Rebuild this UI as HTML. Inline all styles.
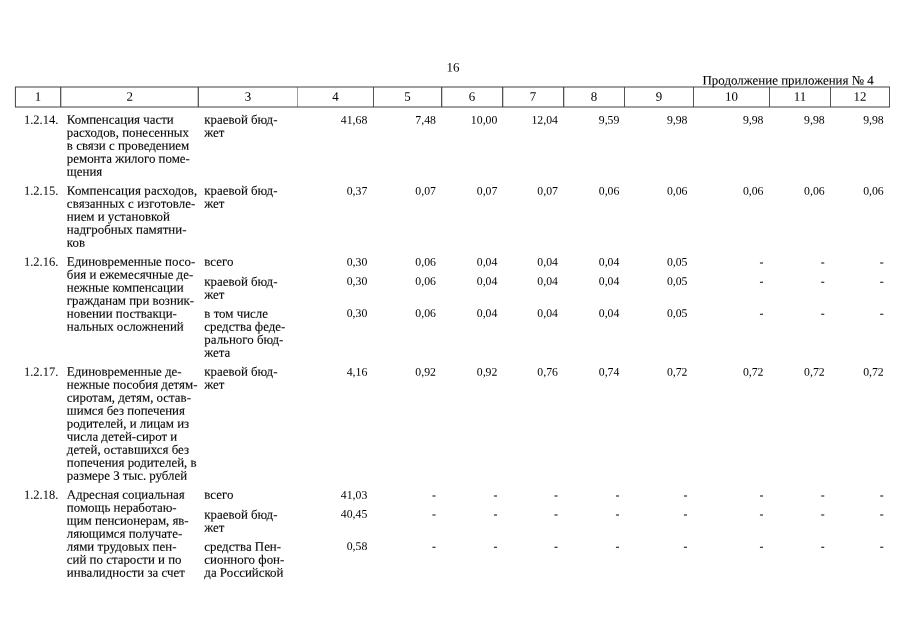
<!DOCTYPE html>
<html lang="ru"><head><meta charset="utf-8"><title>16</title>
<style>
html,body{margin:0;padding:0;background:#fff;}
body{width:905px;height:640px;position:relative;overflow:hidden;font-family:"Liberation Serif","DejaVu Serif",serif;font-size:12.9px;line-height:14px;color:#000;}
#pg{position:absolute;left:0;top:0;width:905px;height:640px;will-change:transform;text-rendering:geometricPrecision;}
.t{position:absolute;height:14px;white-space:pre;transform-origin:0 0;}
.r{width:200px;text-align:right;transform-origin:100% 0;}
.c{width:200px;text-align:center;transform-origin:50% 0;}
.b{-webkit-text-stroke:0.1px #000;}
.n{font-size:11.78px;}
.k{font-size:12.96px;}
.m{font-size:12.5px;}
.grid{position:absolute;left:0;top:0;}
</style></head><body>
<svg class="grid" width="905" height="640" viewBox="0 0 905 640">
<g stroke="#404040" fill="none">
<line x1="15" y1="87.0" x2="890" y2="87.0" stroke-width="1"/>
<line x1="15" y1="107.0" x2="890" y2="107.0" stroke-width="1"/>
<line x1="15.4" y1="87.0" x2="15.4" y2="107.0" stroke-width="1.0"/>
<line x1="60.72" y1="87.0" x2="60.72" y2="107.0" stroke-width="1.15"/>
<line x1="198.28" y1="87.0" x2="198.28" y2="107.0" stroke-width="1.15"/>
<line x1="297.5" y1="87.0" x2="297.5" y2="107.0" stroke-width="0.5"/>
<line x1="373.5" y1="87.0" x2="373.5" y2="107.0" stroke-width="0.9"/>
<line x1="441.68" y1="87.0" x2="441.68" y2="107.0" stroke-width="1.15"/>
<line x1="502.68" y1="87.0" x2="502.68" y2="107.0" stroke-width="1.15"/>
<line x1="563.68" y1="87.0" x2="563.68" y2="107.0" stroke-width="1.15"/>
<line x1="624.5" y1="87.0" x2="624.5" y2="107.0" stroke-width="0.9"/>
<line x1="693.5" y1="87.0" x2="693.5" y2="107.0" stroke-width="0.9"/>
<line x1="769.5" y1="87.0" x2="769.5" y2="107.0" stroke-width="0.9"/>
<line x1="830.5" y1="87.0" x2="830.5" y2="107.0" stroke-width="0.9"/>
<line x1="889.5" y1="87.0" x2="889.5" y2="107.0" stroke-width="0.9"/>
</g></svg>
<div id="pg">
<div class="t c" style="left:353px;top:60px;transform:matrix(1,0.0005,0,1,0.00,0.60)">16</div>
<div class="t k b" style="left:702px;top:73px;transform:matrix(1,0.0005,0,1,0.50,0.50)">Продолжение приложения № 4</div>
<div class="t c" style="left:-62px;top:89px;transform:matrix(1,0.0005,0,1,0.07,0.85)">1</div>
<div class="t c" style="left:29px;top:89px;transform:matrix(1,0.0005,0,1,0.65,0.85)">2</div>
<div class="t c" style="left:147px;top:89px;transform:matrix(1,0.0005,0,1,0.93,0.85)">3</div>
<div class="t c" style="left:235px;top:89px;transform:matrix(1,0.0005,0,1,0.50,0.85)">4</div>
<div class="t c" style="left:307px;top:89px;transform:matrix(1,0.0005,0,1,0.50,0.85)">5</div>
<div class="t c" style="left:372px;top:89px;transform:matrix(1,0.0005,0,1,0.10,0.85)">6</div>
<div class="t c" style="left:433px;top:89px;transform:matrix(1,0.0005,0,1,0.10,0.85)">7</div>
<div class="t c" style="left:494px;top:89px;transform:matrix(1,0.0005,0,1,0.00,0.85)">8</div>
<div class="t c" style="left:558px;top:89px;transform:matrix(1,0.0005,0,1,0.90,0.85)">9</div>
<div class="t c" style="left:631px;top:89px;transform:matrix(1,0.0005,0,1,0.40,0.85)">10</div>
<div class="t c" style="left:699px;top:89px;transform:matrix(1,0.0005,0,1,0.90,0.85)">11</div>
<div class="t c" style="left:759px;top:89px;transform:matrix(1,0.0005,0,1,0.90,0.85)">12</div>
<div class="t m" style="left:23px;top:112px;transform:matrix(1,0.0005,0,1,0.90,0.75)">1.2.14.</div>
<div class="t b" style="left:66px;top:112px;transform:matrix(1,0.0005,0,1,0.85,0.75)">Компенсация части</div>
<div class="t b" style="left:66px;top:125px;transform:matrix(1,0.0005,0,1,0.85,0.75)">расходов, понесенных</div>
<div class="t b" style="left:66px;top:138px;transform:matrix(1,0.0005,0,1,0.85,0.75)">в связи с проведением</div>
<div class="t b" style="left:66px;top:151px;transform:matrix(1,0.0005,0,1,0.85,0.75)">ремонта жилого поме-</div>
<div class="t b" style="left:66px;top:164px;transform:matrix(1,0.0005,0,1,0.85,0.75)">щения</div>
<div class="t b" style="left:204px;top:112px;transform:matrix(1,0.0005,0,1,0.35,0.75)">краевой бюд-</div>
<div class="t b" style="left:204px;top:125px;transform:matrix(1,0.0005,0,1,0.35,0.75)">жет</div>
<div class="t r n" style="left:167px;top:113px;transform:matrix(1,0.0005,0,1,0.30,0.75)">41,68</div>
<div class="t r n" style="left:235px;top:113px;transform:matrix(1,0.0005,0,1,0.95,0.75)">7,48</div>
<div class="t r n" style="left:297px;top:113px;transform:matrix(1,0.0005,0,1,0.35,0.75)">10,00</div>
<div class="t r n" style="left:357px;top:113px;transform:matrix(1,0.0005,0,1,0.95,0.75)">12,04</div>
<div class="t r n" style="left:419px;top:113px;transform:matrix(1,0.0005,0,1,0.35,0.75)">9,59</div>
<div class="t r n" style="left:487px;top:113px;transform:matrix(1,0.0005,0,1,0.50,0.75)">9,98</div>
<div class="t r n" style="left:563px;top:113px;transform:matrix(1,0.0005,0,1,0.50,0.75)">9,98</div>
<div class="t r n" style="left:624px;top:113px;transform:matrix(1,0.0005,0,1,0.70,0.75)">9,98</div>
<div class="t r n" style="left:683px;top:113px;transform:matrix(1,0.0005,0,1,0.75,0.75)">9,98</div>
<div class="t m" style="left:23px;top:183px;transform:matrix(1,0.0005,0,1,0.90,0.75)">1.2.15.</div>
<div class="t b" style="left:66px;top:183px;letter-spacing:0.095px;transform:matrix(1,0.0005,0,1,0.85,0.75)">Компенсация расходов,</div>
<div class="t b" style="left:66px;top:196px;letter-spacing:0.071px;transform:matrix(1,0.0005,0,1,0.85,0.75)">связанных с изготовле-</div>
<div class="t b" style="left:66px;top:209px;transform:matrix(1,0.0005,0,1,0.85,0.75)">нием и установкой</div>
<div class="t b" style="left:66px;top:222px;transform:matrix(1,0.0005,0,1,0.85,0.75)">надгробных памятни-</div>
<div class="t b" style="left:66px;top:235px;transform:matrix(1,0.0005,0,1,0.85,0.75)">ков</div>
<div class="t b" style="left:204px;top:183px;transform:matrix(1,0.0005,0,1,0.35,0.75)">краевой бюд-</div>
<div class="t b" style="left:204px;top:196px;transform:matrix(1,0.0005,0,1,0.35,0.75)">жет</div>
<div class="t r n" style="left:167px;top:184px;transform:matrix(1,0.0005,0,1,0.30,0.75)">0,37</div>
<div class="t r n" style="left:235px;top:184px;transform:matrix(1,0.0005,0,1,0.95,0.75)">0,07</div>
<div class="t r n" style="left:297px;top:184px;transform:matrix(1,0.0005,0,1,0.35,0.75)">0,07</div>
<div class="t r n" style="left:357px;top:184px;transform:matrix(1,0.0005,0,1,0.95,0.75)">0,07</div>
<div class="t r n" style="left:419px;top:184px;transform:matrix(1,0.0005,0,1,0.35,0.75)">0,06</div>
<div class="t r n" style="left:487px;top:184px;transform:matrix(1,0.0005,0,1,0.50,0.75)">0,06</div>
<div class="t r n" style="left:563px;top:184px;transform:matrix(1,0.0005,0,1,0.50,0.75)">0,06</div>
<div class="t r n" style="left:624px;top:184px;transform:matrix(1,0.0005,0,1,0.70,0.75)">0,06</div>
<div class="t r n" style="left:683px;top:184px;transform:matrix(1,0.0005,0,1,0.75,0.75)">0,06</div>
<div class="t m" style="left:23px;top:254px;transform:matrix(1,0.0005,0,1,0.90,0.75)">1.2.16.</div>
<div class="t b" style="left:66px;top:254px;transform:matrix(1,0.0005,0,1,0.85,0.75)">Единовременные посо-</div>
<div class="t b" style="left:66px;top:267px;transform:matrix(1,0.0005,0,1,0.85,0.75)">бия и ежемесячные де-</div>
<div class="t b" style="left:66px;top:280px;letter-spacing:-0.065px;transform:matrix(1,0.0005,0,1,0.85,0.75)">нежные компенсации</div>
<div class="t b" style="left:66px;top:293px;letter-spacing:-0.035px;transform:matrix(1,0.0005,0,1,0.85,0.75)">гражданам при возник-</div>
<div class="t b" style="left:66px;top:306px;transform:matrix(1,0.0005,0,1,0.85,0.75)">новении поствакци-</div>
<div class="t b" style="left:66px;top:319px;letter-spacing:-0.041px;transform:matrix(1,0.0005,0,1,0.85,0.75)">нальных осложнений</div>
<div class="t b" style="left:204px;top:254px;transform:matrix(1,0.0005,0,1,0.35,0.75)">всего</div>
<div class="t r n" style="left:167px;top:255px;transform:matrix(1,0.0005,0,1,0.30,0.75)">0,30</div>
<div class="t r n" style="left:235px;top:255px;transform:matrix(1,0.0005,0,1,0.95,0.75)">0,06</div>
<div class="t r n" style="left:297px;top:255px;transform:matrix(1,0.0005,0,1,0.35,0.75)">0,04</div>
<div class="t r n" style="left:357px;top:255px;transform:matrix(1,0.0005,0,1,0.95,0.75)">0,04</div>
<div class="t r n" style="left:419px;top:255px;transform:matrix(1,0.0005,0,1,0.35,0.75)">0,04</div>
<div class="t r n" style="left:487px;top:255px;transform:matrix(1,0.0005,0,1,0.50,0.75)">0,05</div>
<div class="t r n" style="left:563px;top:255px;transform:matrix(1,0.0005,0,1,0.50,0.75)">-</div>
<div class="t r n" style="left:624px;top:255px;transform:matrix(1,0.0005,0,1,0.70,0.75)">-</div>
<div class="t r n" style="left:683px;top:255px;transform:matrix(1,0.0005,0,1,0.75,0.75)">-</div>
<div class="t b" style="left:204px;top:274px;transform:matrix(1,0.0005,0,1,0.35,0.75)">краевой бюд-</div>
<div class="t b" style="left:204px;top:287px;transform:matrix(1,0.0005,0,1,0.35,0.75)">жет</div>
<div class="t r n" style="left:167px;top:275px;transform:matrix(1,0.0005,0,1,0.30,0.00)">0,30</div>
<div class="t r n" style="left:235px;top:275px;transform:matrix(1,0.0005,0,1,0.95,0.00)">0,06</div>
<div class="t r n" style="left:297px;top:275px;transform:matrix(1,0.0005,0,1,0.35,0.00)">0,04</div>
<div class="t r n" style="left:357px;top:275px;transform:matrix(1,0.0005,0,1,0.95,0.00)">0,04</div>
<div class="t r n" style="left:419px;top:275px;transform:matrix(1,0.0005,0,1,0.35,0.00)">0,04</div>
<div class="t r n" style="left:487px;top:275px;transform:matrix(1,0.0005,0,1,0.50,0.00)">0,05</div>
<div class="t r n" style="left:563px;top:275px;transform:matrix(1,0.0005,0,1,0.50,0.00)">-</div>
<div class="t r n" style="left:624px;top:275px;transform:matrix(1,0.0005,0,1,0.70,0.00)">-</div>
<div class="t r n" style="left:683px;top:275px;transform:matrix(1,0.0005,0,1,0.75,0.00)">-</div>
<div class="t b" style="left:204px;top:306px;transform:matrix(1,0.0005,0,1,0.35,0.75)">в том числе</div>
<div class="t b" style="left:204px;top:319px;transform:matrix(1,0.0005,0,1,0.35,0.75)">средства феде-</div>
<div class="t b" style="left:204px;top:332px;transform:matrix(1,0.0005,0,1,0.35,0.75)">рального бюд-</div>
<div class="t b" style="left:204px;top:345px;transform:matrix(1,0.0005,0,1,0.35,0.75)">жета</div>
<div class="t r n" style="left:167px;top:307px;transform:matrix(1,0.0005,0,1,0.30,0.00)">0,30</div>
<div class="t r n" style="left:235px;top:307px;transform:matrix(1,0.0005,0,1,0.95,0.00)">0,06</div>
<div class="t r n" style="left:297px;top:307px;transform:matrix(1,0.0005,0,1,0.35,0.00)">0,04</div>
<div class="t r n" style="left:357px;top:307px;transform:matrix(1,0.0005,0,1,0.95,0.00)">0,04</div>
<div class="t r n" style="left:419px;top:307px;transform:matrix(1,0.0005,0,1,0.35,0.00)">0,04</div>
<div class="t r n" style="left:487px;top:307px;transform:matrix(1,0.0005,0,1,0.50,0.00)">0,05</div>
<div class="t r n" style="left:563px;top:307px;transform:matrix(1,0.0005,0,1,0.50,0.00)">-</div>
<div class="t r n" style="left:624px;top:307px;transform:matrix(1,0.0005,0,1,0.70,0.00)">-</div>
<div class="t r n" style="left:683px;top:307px;transform:matrix(1,0.0005,0,1,0.75,0.00)">-</div>
<div class="t m" style="left:23px;top:364px;transform:matrix(1,0.0005,0,1,0.90,0.75)">1.2.17.</div>
<div class="t b" style="left:66px;top:364px;transform:matrix(1,0.0005,0,1,0.85,0.75)">Единовременные де-</div>
<div class="t b" style="left:66px;top:377px;transform:matrix(1,0.0005,0,1,0.85,0.75)">нежные пособия детям-</div>
<div class="t b" style="left:66px;top:390px;transform:matrix(1,0.0005,0,1,0.85,0.75)">сиротам, детям, остав-</div>
<div class="t b" style="left:66px;top:403px;transform:matrix(1,0.0005,0,1,0.85,0.75)">шимся без попечения</div>
<div class="t b" style="left:66px;top:416px;transform:matrix(1,0.0005,0,1,0.85,0.75)">родителей, и лицам из</div>
<div class="t b" style="left:66px;top:429px;transform:matrix(1,0.0005,0,1,0.85,0.75)">числа детей-сирот и</div>
<div class="t b" style="left:66px;top:442px;transform:matrix(1,0.0005,0,1,0.85,0.75)">детей, оставшихся без</div>
<div class="t b" style="left:66px;top:455px;transform:matrix(1,0.0005,0,1,0.85,0.75)">попечения родителей, в</div>
<div class="t b" style="left:66px;top:468px;transform:matrix(1,0.0005,0,1,0.85,0.75)">размере 3 тыс. рублей</div>
<div class="t b" style="left:204px;top:364px;transform:matrix(1,0.0005,0,1,0.35,0.75)">краевой бюд-</div>
<div class="t b" style="left:204px;top:377px;transform:matrix(1,0.0005,0,1,0.35,0.75)">жет</div>
<div class="t r n" style="left:167px;top:365px;transform:matrix(1,0.0005,0,1,0.30,0.75)">4,16</div>
<div class="t r n" style="left:235px;top:365px;transform:matrix(1,0.0005,0,1,0.95,0.75)">0,92</div>
<div class="t r n" style="left:297px;top:365px;transform:matrix(1,0.0005,0,1,0.35,0.75)">0,92</div>
<div class="t r n" style="left:357px;top:365px;transform:matrix(1,0.0005,0,1,0.95,0.75)">0,76</div>
<div class="t r n" style="left:419px;top:365px;transform:matrix(1,0.0005,0,1,0.35,0.75)">0,74</div>
<div class="t r n" style="left:487px;top:365px;transform:matrix(1,0.0005,0,1,0.50,0.75)">0,72</div>
<div class="t r n" style="left:563px;top:365px;transform:matrix(1,0.0005,0,1,0.50,0.75)">0,72</div>
<div class="t r n" style="left:624px;top:365px;transform:matrix(1,0.0005,0,1,0.70,0.75)">0,72</div>
<div class="t r n" style="left:683px;top:365px;transform:matrix(1,0.0005,0,1,0.75,0.75)">0,72</div>
<div class="t m" style="left:23px;top:487px;transform:matrix(1,0.0005,0,1,0.90,0.75)">1.2.18.</div>
<div class="t b" style="left:66px;top:487px;letter-spacing:-0.039px;transform:matrix(1,0.0005,0,1,0.85,0.75)">Адресная социальная</div>
<div class="t b" style="left:66px;top:500px;transform:matrix(1,0.0005,0,1,0.85,0.75)">помощь неработаю-</div>
<div class="t b" style="left:66px;top:513px;letter-spacing:-0.037px;transform:matrix(1,0.0005,0,1,0.85,0.75)">щим пенсионерам, яв-</div>
<div class="t b" style="left:66px;top:526px;transform:matrix(1,0.0005,0,1,0.85,0.75)">ляющимся получате-</div>
<div class="t b" style="left:66px;top:539px;transform:matrix(1,0.0005,0,1,0.85,0.75)">лями трудовых пен-</div>
<div class="t b" style="left:66px;top:552px;transform:matrix(1,0.0005,0,1,0.85,0.75)">сий по старости и по</div>
<div class="t b" style="left:66px;top:565px;transform:matrix(1,0.0005,0,1,0.85,0.75)">инвалидности за счет</div>
<div class="t b" style="left:204px;top:487px;transform:matrix(1,0.0005,0,1,0.35,0.75)">всего</div>
<div class="t r n" style="left:167px;top:488px;transform:matrix(1,0.0005,0,1,0.30,0.75)">41,03</div>
<div class="t r n" style="left:235px;top:488px;transform:matrix(1,0.0005,0,1,0.95,0.75)">-</div>
<div class="t r n" style="left:297px;top:488px;transform:matrix(1,0.0005,0,1,0.35,0.75)">-</div>
<div class="t r n" style="left:357px;top:488px;transform:matrix(1,0.0005,0,1,0.95,0.75)">-</div>
<div class="t r n" style="left:419px;top:488px;transform:matrix(1,0.0005,0,1,0.35,0.75)">-</div>
<div class="t r n" style="left:487px;top:488px;transform:matrix(1,0.0005,0,1,0.50,0.75)">-</div>
<div class="t r n" style="left:563px;top:488px;transform:matrix(1,0.0005,0,1,0.50,0.75)">-</div>
<div class="t r n" style="left:624px;top:488px;transform:matrix(1,0.0005,0,1,0.70,0.75)">-</div>
<div class="t r n" style="left:683px;top:488px;transform:matrix(1,0.0005,0,1,0.75,0.75)">-</div>
<div class="t b" style="left:204px;top:507px;transform:matrix(1,0.0005,0,1,0.35,0.75)">краевой бюд-</div>
<div class="t b" style="left:204px;top:520px;transform:matrix(1,0.0005,0,1,0.35,0.75)">жет</div>
<div class="t r n" style="left:167px;top:507px;transform:matrix(1,0.0005,0,1,0.30,0.75)">40,45</div>
<div class="t r n" style="left:235px;top:507px;transform:matrix(1,0.0005,0,1,0.95,0.75)">-</div>
<div class="t r n" style="left:297px;top:507px;transform:matrix(1,0.0005,0,1,0.35,0.75)">-</div>
<div class="t r n" style="left:357px;top:507px;transform:matrix(1,0.0005,0,1,0.95,0.75)">-</div>
<div class="t r n" style="left:419px;top:507px;transform:matrix(1,0.0005,0,1,0.35,0.75)">-</div>
<div class="t r n" style="left:487px;top:507px;transform:matrix(1,0.0005,0,1,0.50,0.75)">-</div>
<div class="t r n" style="left:563px;top:507px;transform:matrix(1,0.0005,0,1,0.50,0.75)">-</div>
<div class="t r n" style="left:624px;top:507px;transform:matrix(1,0.0005,0,1,0.70,0.75)">-</div>
<div class="t r n" style="left:683px;top:507px;transform:matrix(1,0.0005,0,1,0.75,0.75)">-</div>
<div class="t b" style="left:204px;top:539px;transform:matrix(1,0.0005,0,1,0.35,0.75)">средства Пен-</div>
<div class="t b" style="left:204px;top:552px;transform:matrix(1,0.0005,0,1,0.35,0.75)">сионного фон-</div>
<div class="t b" style="left:204px;top:565px;transform:matrix(1,0.0005,0,1,0.35,0.75)">да Российской</div>
<div class="t r n" style="left:167px;top:540px;transform:matrix(1,0.0005,0,1,0.30,0.00)">0,58</div>
<div class="t r n" style="left:235px;top:540px;transform:matrix(1,0.0005,0,1,0.95,0.00)">-</div>
<div class="t r n" style="left:297px;top:540px;transform:matrix(1,0.0005,0,1,0.35,0.00)">-</div>
<div class="t r n" style="left:357px;top:540px;transform:matrix(1,0.0005,0,1,0.95,0.00)">-</div>
<div class="t r n" style="left:419px;top:540px;transform:matrix(1,0.0005,0,1,0.35,0.00)">-</div>
<div class="t r n" style="left:487px;top:540px;transform:matrix(1,0.0005,0,1,0.50,0.00)">-</div>
<div class="t r n" style="left:563px;top:540px;transform:matrix(1,0.0005,0,1,0.50,0.00)">-</div>
<div class="t r n" style="left:624px;top:540px;transform:matrix(1,0.0005,0,1,0.70,0.00)">-</div>
<div class="t r n" style="left:683px;top:540px;transform:matrix(1,0.0005,0,1,0.75,0.00)">-</div>
</div>
</body></html>
